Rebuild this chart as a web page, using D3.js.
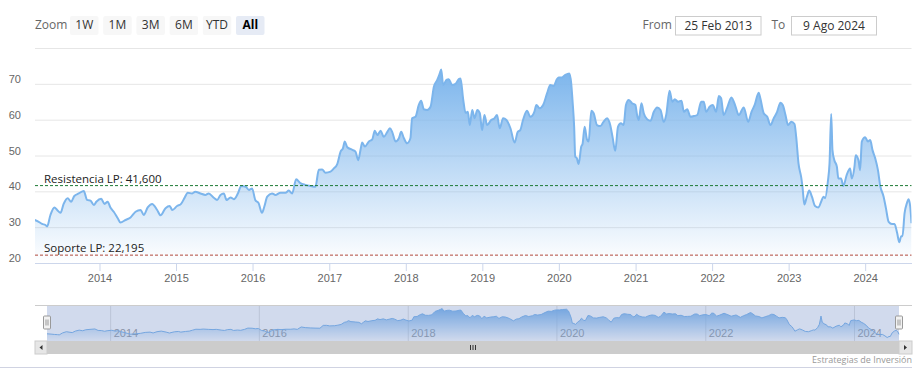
<!DOCTYPE html>
<html>
<head>
<meta charset="utf-8">
<script src="https://cdn.jsdelivr.net/npm/d3@7"></script>
<style>
  body { margin: 0; background: #fff; }
  svg { font-family: "Open Sans", sans-serif; display: block; }
</style>
</head>
<body>
<div id="chart"></div>
<script>
// Weekly-ish closes
const dates = [
  "2013-02-25","2013-03-17","2013-04-02","2013-04-18","2013-04-26","2013-05-12","2013-05-31","2013-06-13","2013-06-29","2013-07-14",
  "2013-08-02","2013-08-19","2013-09-03","2013-09-24","2013-10-18","2013-11-03","2013-11-19","2013-12-05","2013-12-17",
  "2014-01-09","2014-01-25","2014-02-09","2014-02-22","2014-03-10","2014-03-29","2014-04-11","2014-05-05","2014-05-29","2014-06-22",
  "2014-07-16","2014-07-31","2014-08-19","2014-09-09","2014-10-03","2014-10-19","2014-11-12","2014-12-02","2014-12-14",
  "2015-01-06","2015-01-25","2015-02-10","2015-02-26","2015-03-19","2015-04-03","2015-04-28","2015-05-21","2015-06-06","2015-06-30",
  "2015-07-16","2015-08-01","2015-08-17","2015-08-30","2015-09-18","2015-10-04","2015-10-23","2015-11-08","2015-11-29","2015-12-15","2015-12-30",
  "2016-01-14","2016-01-30","2016-02-15","2016-02-26","2016-03-11","2016-04-03","2016-04-19","2016-05-13","2016-06-06","2016-06-22",
  "2016-07-08","2016-07-27","2016-08-16","2016-09-09","2016-10-03","2016-10-27","2016-11-12","2016-11-28","2016-12-14",
  "2017-01-07","2017-01-23","2017-02-08","2017-02-24","2017-03-07","2017-03-16","2017-03-28","2017-04-21","2017-05-06","2017-05-19",
  "2017-05-30","2017-06-07","2017-06-20","2017-07-09","2017-07-25","2017-08-06","2017-08-18","2017-09-03","2017-09-18","2017-10-05",
  "2017-10-17","2017-10-28","2017-11-13","2017-11-29","2017-12-10","2017-12-23",
  "2018-01-07","2018-01-23","2018-01-31","2018-02-16","2018-03-04","2018-03-15","2018-03-28","2018-04-13","2018-04-29","2018-05-15",
  "2018-05-31","2018-06-12","2018-06-19","2018-06-28","2018-07-14","2018-07-25","2018-08-10","2018-08-26","2018-09-11","2018-09-19",
  "2018-10-02","2018-10-13","2018-10-24","2018-11-02","2018-11-14","2018-11-25","2018-12-08","2018-12-20","2018-12-31",
  "2019-01-11","2019-01-24","2019-02-12","2019-02-28","2019-03-12","2019-03-25","2019-04-10","2019-04-26","2019-05-15","2019-06-04",
  "2019-06-19","2019-07-01","2019-07-14","2019-08-02","2019-08-18","2019-09-06","2019-09-16","2019-10-01","2019-10-18","2019-11-06",
  "2019-11-21","2019-12-07","2019-12-23","2019-12-31",
  "2020-01-16","2020-02-01","2020-02-20","2020-02-29","2020-03-06","2020-03-14","2020-03-19","2020-03-27","2020-04-04","2020-04-17",
  "2020-04-23","2020-05-03","2020-05-14","2020-05-22","2020-06-04","2020-06-15","2020-07-01","2020-07-17","2020-08-01","2020-08-18",
  "2020-09-02","2020-09-13","2020-09-26","2020-10-09","2020-10-23","2020-11-05","2020-11-16","2020-11-29","2020-12-15","2020-12-31",
  "2021-01-08","2021-01-16","2021-01-29","2021-02-09","2021-02-25","2021-03-13","2021-03-29","2021-04-14","2021-04-30","2021-05-15",
  "2021-05-27","2021-06-12","2021-06-25","2021-07-07","2021-07-23","2021-08-08","2021-08-19","2021-09-04","2021-09-20","2021-10-06",
  "2021-10-22","2021-11-10","2021-11-22","2021-12-04","2021-12-20",
  "2022-01-04","2022-01-20","2022-02-02","2022-02-13","2022-02-25","2022-03-13","2022-04-03","2022-04-22","2022-05-08","2022-06-01",
  "2022-06-22","2022-07-08","2022-07-23","2022-08-11","2022-08-19","2022-09-04","2022-09-21","2022-10-06","2022-10-22","2022-11-07",
  "2022-11-23","2022-12-04","2022-12-17","2022-12-29",
  "2023-01-14","2023-01-29","2023-02-06","2023-02-17","2023-03-02","2023-03-08","2023-03-17","2023-03-29","2023-04-09","2023-04-22",
  "2023-05-07","2023-05-23","2023-06-05","2023-06-16","2023-06-24","2023-07-07","2023-07-15","2023-07-23","2023-07-29","2023-08-07",
  "2023-08-19","2023-08-26","2023-09-08","2023-09-19","2023-10-05","2023-10-21","2023-10-29","2023-11-11","2023-11-17","2023-11-30",
  "2023-12-08","2023-12-16",
  "2024-01-01","2024-01-14","2024-01-25","2024-02-05","2024-02-18","2024-03-02","2024-03-13","2024-03-29","2024-04-09","2024-04-22",
  "2024-05-08","2024-05-20","2024-06-01","2024-06-12","2024-06-21","2024-06-27","2024-07-07","2024-07-18","2024-07-26","2024-08-03","2024-08-09"
];

const prices = [
  32.0,31.5,30.9,30.6,30.2,33.4,35.5,34.8,34.0,36.5,
  38.1,37.1,38.7,39.4,40.1,37.6,37.4,36.2,37.1,
  37.9,36.5,37.1,35.5,34.3,32.5,31.3,32.0,32.7,34.3,
  34.8,33.4,35.5,36.5,34.8,33.3,35.3,35.9,34.8,
  35.9,36.5,38.1,39.6,39.4,39.9,39.4,39.0,39.4,38.2,
  37.6,39.0,39.4,37.6,38.3,37.8,39.4,41.5,41.3,40.4,40.8,
  37.6,36.7,34.0,35.7,38.5,39.4,39.0,39.6,39.6,40.2,
  39.4,43.4,42.3,41.8,41.5,41.3,46.0,46.1,45.2,
  45.5,46.4,47.6,51.1,52.0,53.9,52.3,51.6,51.1,48.7,
  51.6,53.6,52.5,53.9,54.5,56.9,55.7,56.9,55.2,56.6,
  57.6,56.6,53.9,54.8,56.6,54.8,
  53.4,54.8,60.4,60.8,64.1,65.3,62.9,62.7,63.6,69.2,
  71.1,72.9,74.0,69.7,71.1,71.3,69.7,70.0,71.3,71.5,
  65.5,61.9,62.2,58.5,62.7,60.4,62.7,61.8,57.1,
  61.3,58.5,59.9,60.4,61.3,57.6,60.4,59.9,57.6,53.6,
  56.6,57.1,59.9,62.5,60.8,62.2,64.1,63.2,64.1,67.4,
  69.7,69.4,71.3,71.8,
  71.8,72.5,72.9,70.1,65.5,58.0,49.7,49.2,47.6,52.5,
  53.2,58.0,54.5,53.9,62.5,61.8,58.5,58.2,59.4,60.4,
  58.5,55.2,51.3,58.0,59.0,58.5,64.1,65.5,64.6,64.1,
  61.3,59.9,64.6,61.8,60.1,59.7,62.2,63.4,62.7,59.4,
  61.3,68.1,65.0,65.7,65.0,65.3,62.2,62.9,60.8,61.0,
  61.3,65.0,65.0,62.2,63.6,
  64.1,62.2,66.6,66.0,61.3,63.2,66.2,63.8,61.3,63.4,
  59.4,62.2,64.1,67.5,66.0,61.8,60.8,58.5,60.4,62.2,
  64.7,64.1,61.3,58.5,
  59.4,58.8,55.2,47.8,43.9,41.3,36.3,38.5,40.2,38.5,
  35.9,35.5,37.1,38.5,38.1,42.7,47.8,61.6,51.5,48.7,
  46.9,43.6,43.6,41.5,44.6,46.4,43.6,46.9,50.1,48.7,
  45.9,53.9,
  55.1,53.9,54.3,51.5,49.2,45.9,41.5,38.5,35.3,31.5,
  30.9,30.9,28.5,25.8,27.5,27.5,33.9,36.7,37.8,35.7,31.1
];

// Axis ticks
const yTicks = [20, 30, 40, 50, 60, 70, 80];
const yearTicks = ["2014","2015","2016","2017","2018","2019","2020","2021","2022","2023","2024"];
const navYearTicks = ["2014","2016","2018","2020","2022","2024"];

// Horizontal support / resistance levels
const levelNames = ["Resistencia LP: 41,600", "Soporte LP: 22,195"];
const levelValues = [41.6, 22.195];
const levelColors = ["#1d7a34", "#b04a3c"];

// Range selector buttons and date inputs
const rangeButtons = ["1W", "1M", "3M", "6M", "YTD", "All"];
const fromLabel = "25 Feb 2013";
const toLabel = "9 Ago 2024";

// Layout
const W = 923, H = 377;
const plot = { left: 35, right: 911.5, top: 48, bottom: 263 };
const nav = { left: 47, right: 899, top: 305, bottom: 341, scrollBottom: 354, outerLeft: 35, outerRight: 912 };
const seriesColor = "#7cb5ec";

const parse = d3.timeParse("%Y-%m-%d");
const data = dates.map((d, i) => ({ date: parse(d), value: prices[i] }));
const xDomain = [parse(dates[0]), parse(dates[dates.length - 1])];

// Create SVG container
const svg = d3.select("#chart")
    .append("svg")
    .attr("width", W)
    .attr("height", H);

const defs = svg.append("defs");
const grad = defs.append("linearGradient")
    .attr("id", "area-fill")
    .attr("x1", 0).attr("y1", 0).attr("x2", 0).attr("y2", 1);
grad.append("stop").attr("offset", "0%").attr("stop-color", seriesColor).attr("stop-opacity", 1);
grad.append("stop").attr("offset", "100%").attr("stop-color", seriesColor).attr("stop-opacity", 0);

defs.append("clipPath").attr("id", "plot-clip")
    .append("rect")
    .attr("x", plot.left).attr("y", plot.top - 10)
    .attr("width", plot.right - plot.left).attr("height", plot.bottom - plot.top + 10);

// Scales
const x = d3.scaleTime().domain(xDomain).range([34.5, plot.right]);
const y = d3.scaleLinear().domain([20, 80]).range([plot.bottom, plot.top]);

// Y gridlines and labels
svg.append("g")
    .attr("transform", `translate(${plot.left},0)`)
    .call(d3.axisLeft(y).tickValues(yTicks).tickSize(-(plot.right - plot.left)).tickFormat(d => d === 80 ? "" : d))
    .call(g => g.select(".domain").remove())
    .call(g => g.selectAll("line").attr("stroke", "#e6e6e6"))
    .call(g => g.selectAll("text")
        .attr("x", -14)
        .attr("dy", -1.5)
        .attr("fill", "#666")
        .style("font-size", "11px"));

// Area + line
const area = d3.area()
    .curve(d3.curveMonotoneX)
    .x(d => x(d.date))
    .y0(plot.bottom)
    .y1(d => y(d.value));
const line = d3.line()
    .curve(d3.curveMonotoneX)
    .x(d => x(d.date))
    .y(d => y(d.value));

const plotG = svg.append("g").attr("clip-path", "url(#plot-clip)");
plotG.append("path").datum(data).attr("d", area).attr("fill", "url(#area-fill)");
plotG.append("path").datum(data).attr("d", line)
    .attr("fill", "none")
    .attr("stroke", seriesColor)
    .attr("stroke-width", 2)
    .attr("stroke-linejoin", "round");

// Support / resistance plot lines
levelValues.forEach((v, i) => {
    svg.append("line")
        .attr("x1", plot.left).attr("x2", plot.right)
        .attr("y1", y(v)).attr("y2", y(v))
        .attr("stroke", levelColors[i])
        .attr("stroke-width", 1)
        .attr("stroke-dasharray", "3,2");
    svg.append("text")
        .attr("x", 44)
        .attr("y", y(v) - 3)
        .attr("fill", "#222")
        .style("font-size", "11.5px")
        .text(levelNames[i]);
});

// X axis
svg.append("g")
    .attr("transform", `translate(0,${plot.bottom})`)
    .call(d3.axisBottom(x).tickValues(yearTicks.map(d => parse(d + "-01-01"))).tickSize(8).tickSizeOuter(0)
        .tickFormat(d3.timeFormat("%Y")))
    .call(g => g.select(".domain").attr("stroke", "#ccd6eb"))
    .call(g => g.selectAll(".tick line").attr("stroke", "#ccd6eb"))
    .call(g => g.selectAll("text").attr("fill", "#666").style("font-size", "11px"));

// Navigator
const xNav = d3.scaleTime().domain(xDomain).range([nav.left, nav.right]);
const yNav = d3.scaleLinear().domain([20, 80]).range([nav.bottom, nav.top]);

const navG = svg.append("g");
navG.append("g")
    .attr("transform", `translate(0,${nav.bottom})`)
    .call(d3.axisBottom(xNav).tickValues(navYearTicks.map(d => parse(d + "-01-01")))
        .tickSize(-(nav.bottom - nav.top)).tickSizeOuter(0).tickFormat(d3.timeFormat("%Y")))
    .call(g => g.select(".domain").remove())
    .call(g => g.selectAll("line").attr("stroke", "#e0e0e0"))
    .call(g => g.selectAll("text")
        .attr("text-anchor", "start")
        .attr("x", 3).attr("y", -4).attr("dy", 0)
        .attr("fill", "#999")
        .style("font-size", "11px"));

const navArea = d3.area().x(d => xNav(d.date)).y0(nav.bottom).y1(d => yNav(d.value));
const navLine = d3.line().x(d => xNav(d.date)).y(d => yNav(d.value));
navG.append("path").datum(data).attr("d", navArea).attr("fill", "url(#area-fill)");
navG.append("path").datum(data).attr("d", navLine).attr("fill", "none").attr("stroke", seriesColor).attr("stroke-width", 1);

// Selected range mask
navG.append("rect")
    .attr("x", nav.left).attr("y", nav.top)
    .attr("width", nav.right - nav.left).attr("height", nav.bottom - nav.top)
    .attr("fill", "rgba(102,133,194,0.3)");

navG.append("line")
    .attr("x1", nav.outerLeft).attr("x2", nav.outerRight)
    .attr("y1", nav.top + 0.5).attr("y2", nav.top + 0.5)
    .attr("stroke", "#cccccc");

// Handles
[nav.left, nav.right].forEach(hx => {
    const h = navG.append("g").attr("transform", `translate(${Math.round(hx) + 0.5},0)`);
    h.append("rect")
        .attr("x", -4).attr("y", 316).attr("width", 7).attr("height", 13)
        .attr("fill", "#f2f2f2").attr("stroke", "#999").attr("rx", 1);
    [-1.5, 0.5].forEach(dx => h.append("line")
        .attr("x1", dx).attr("x2", dx).attr("y1", 319.5).attr("y2", 325.5)
        .attr("stroke", "#999"));
});

// Scrollbar
const sb = svg.append("g");
sb.append("rect")
    .attr("x", nav.outerLeft).attr("y", nav.bottom)
    .attr("width", nav.outerRight - nav.outerLeft).attr("height", nav.scrollBottom - nav.bottom)
    .attr("fill", "#f2f2f2");
sb.append("rect")
    .attr("x", nav.left).attr("y", nav.bottom)
    .attr("width", nav.right - nav.left).attr("height", nav.scrollBottom - nav.bottom)
    .attr("fill", "#cccccc");
[[nav.outerLeft, nav.left, -1], [nav.right, nav.outerRight, 1]].forEach(([a, b, dir]) => {
    sb.append("rect")
        .attr("x", a).attr("y", nav.bottom)
        .attr("width", b - a).attr("height", nav.scrollBottom - nav.bottom)
        .attr("fill", "#e6e6e6").attr("stroke", "#cccccc");
    const cx = (a + b) / 2, cy = (nav.bottom + nav.scrollBottom) / 2;
    sb.append("path")
        .attr("d", `M${cx + 1.5 * dir},${cy} L${cx - 1.5 * dir},${cy - 2.5} L${cx - 1.5 * dir},${cy + 2.5} Z`)
        .attr("fill", "#333");
});
const mid = (nav.left + nav.right) / 2;
[-2.5, 0, 2.5].forEach(dx => sb.append("line")
    .attr("x1", mid + dx).attr("x2", mid + dx)
    .attr("y1", nav.bottom + 4).attr("y2", nav.scrollBottom - 4)
    .attr("stroke", "#333"));

// Credits + bottom rule
svg.append("text")
    .attr("x", 912).attr("y", 363)
    .attr("text-anchor", "end")
    .attr("fill", "#999")
    .style("font-size", "9px")
    .text("Estrategias de Inversión");
svg.append("line")
    .attr("x1", 0).attr("x2", 912).attr("y1", 367.5).attr("y2", 367.5)
    .attr("stroke", "#d0d3e2");

// Range selector
svg.append("text")
    .attr("x", 35).attr("y", 29)
    .attr("fill", "#666").style("font-size", "12px")
    .text("Zoom");
const btn = svg.selectAll(".rs-btn")
    .data(rangeButtons)
    .join("g")
    .attr("class", "rs-btn")
    .attr("transform", (d, i) => `translate(${70 + i * 33.2},16)`);
btn.append("rect")
    .attr("width", 28.5).attr("height", 19).attr("rx", 2)
    .attr("fill", d => d === "All" ? "#e6ebf5" : "#f7f7f7");
btn.append("text")
    .attr("x", 14.25).attr("y", 13)
    .attr("text-anchor", "middle")
    .attr("fill", d => d === "All" ? "#000" : "#333")
    .style("font-size", "12px")
    .style("font-weight", d => d === "All" ? "bold" : "normal")
    .text(d => d);

// From / To inputs
const inputs = [
    { label: "From", lx: 642.5, bx: 675.5, bw: 85.5, text: fromLabel },
    { label: "To", lx: 771.5, bx: 791.5, bw: 85, text: toLabel }
];
inputs.forEach(inp => {
    svg.append("text").attr("x", inp.lx).attr("y", 29)
        .attr("fill", "#666").style("font-size", "12px").text(inp.label);
    svg.append("rect").attr("x", inp.bx).attr("y", 16.5)
        .attr("width", inp.bw).attr("height", 18.5)
        .attr("fill", "#fff").attr("stroke", "#cccccc");
    svg.append("text").attr("x", inp.bx + inp.bw / 2).attr("y", 29.5)
        .attr("text-anchor", "middle")
        .attr("fill", "#333").style("font-size", "12px").text(inp.text);
});
</script>
</body>
</html>
